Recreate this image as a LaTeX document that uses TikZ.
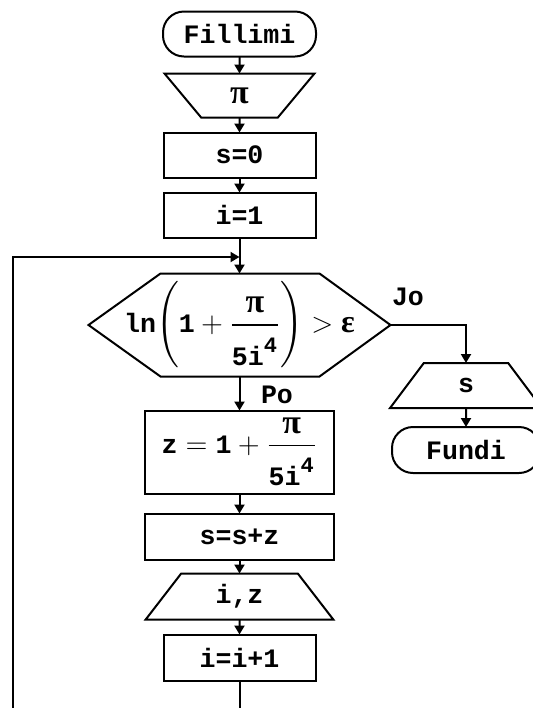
\documentclass[tikz,border=0pt]{standalone}
\usepackage{amsmath}
\usepackage{fontspec}
\setmainfont{Liberation Mono}
\newfontfamily\grk{Liberation Serif}
\usepackage{tikz}
\usetikzlibrary{arrows.meta,positioning,shapes.geometric}
\newcommand{\fsz}{\fontsize{13.3}{16}\selectfont}
\newcommand{\gpi}{\text{\grk\bfseries\fontsize{17}{18}\selectfont π}}
\newcommand{\geps}{\text{\grk\bfseries\fontsize{16}{18}\selectfont ε}}
\newcommand{\frpi}{\dfrac{\gpi\rule[-4pt]{0pt}{0pt}}{\rule{0pt}{18pt}\text{5i}^{\text{\fontsize{11}{12}\selectfont 4}}}}

\begin{document}
\begin{tikzpicture}[x=1pt, y=1pt,
   node distance=7.5pt,
   every node/.style={font=\fsz\bfseries},
   base/.style={draw, line width=1pt, outer sep=0pt, inner sep=2pt, align=center},
   term/.style={base, rounded corners=10.5pt, minimum width=76.5pt, minimum height=22.5pt},
   proc/.style={base, minimum width=76pt, minimum height=22.5pt},
   inp/.style={base, trapezium, trapezium stretches=true, shape border rotate=180,
               trapezium left angle=62, trapezium right angle=62,
               minimum width=75pt, minimum height=22pt},
   outp/.style={base, trapezium, trapezium stretches=true,
                trapezium left angle=62, trapezium right angle=62,
                minimum width=94pt, minimum height=23pt},
   fl/.style={-{Triangle[length=4.5pt,width=5pt]}, line width=1pt}]
  \useasboundingbox (0,0) rectangle (266.5,-354);
  \clip (0,0) rectangle (266.5,-354);
  % main column
  \node[term] (start) at (119.75,-17) {Fillimi};
  \node[inp, below=8.5pt of start] (readpi) {\gpi};
  \node[proc, below=of readpi] (s0) {s=0};
  \node[proc, below=of s0] (i1) {i=1};
  \node[minimum width=151pt, minimum height=51.5pt, outer sep=0pt, inner sep=0pt,
        below=18pt of i1] (cond)
       {$\text{ln}\!\left(\text{1}+\frpi\right) > \geps$};
  \draw[line width=1pt] (cond.west) -- ([xshift=36pt]cond.north west)
     -- ([xshift=-35.5pt]cond.north east) -- (cond.east)
     -- ([xshift=-35.5pt]cond.south east) -- ([xshift=36pt]cond.south west) -- cycle;
  \node[proc, below=17pt of cond, minimum width=94.5pt, minimum height=41.5pt] (zcalc)
       {$\text{z} = \text{1} + \frpi$};
  \node[proc, below=10pt of zcalc, minimum width=94.5pt, minimum height=23pt] (sum) {s=s+z};
  \node[outp, below=7pt of sum] (print) {i,z};
  \node[proc, below=of print, minimum height=23pt] (inc) {i=i+1};
  % branch Jo
  \node[outp, trapezium left angle=67, trapezium right angle=67,
        minimum width=76pt, minimum height=22.5pt] (outs) at (233,-192.75) {s};
  \node[term, below=9.5pt of outs, minimum width=74pt, minimum height=23pt] (stop) {Fundi};
  \node (yes) at (204,-148.5) {Jo};
  \node (no) at (138.5,-197.5) {Po};
  \coordinate[below=9.75pt of i1] (join);
  \coordinate (back) at (6.5,-370);
  \foreach \a/\b in {start/readpi,readpi/s0,s0/i1,i1/cond,cond/zcalc,zcalc/sum,sum/print,print/inc}
    {\draw[fl] (\a) -- (\b);}
  \draw[fl] (cond.east) -| (outs.north);
  \draw[fl] (outs) -- (stop);
  \draw[fl] (inc.south) |- (back) |- (join);
\end{tikzpicture}
\end{document}
